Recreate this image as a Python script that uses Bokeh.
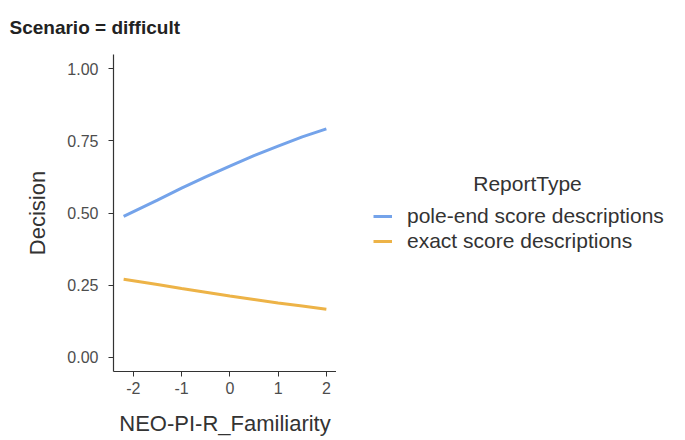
from bokeh.plotting import figure
from bokeh.models import Legend, LegendItem, Label, Range1d, FixedTicker
from bokeh.layouts import row
from bokeh.embed import file_html
from bokeh.resources import INLINE

familiarity = [-2.2, -1.5, -1.0, -0.5, 0.0, 0.5, 1.0, 1.5, 2.0]
pole_end = [0.488, 0.545, 0.586, 0.625, 0.663, 0.699, 0.732, 0.764, 0.792]
exact = [0.270, 0.252, 0.238, 0.225, 0.212, 0.200, 0.188, 0.177, 0.166]
series_names = ["pole-end score descriptions", "exact score descriptions"]
legend_title = "ReportType"
colors = ["#74A3EA", "#EDB347"]
y_ticks = [0.0, 0.25, 0.5, 0.75, 1.0]
x_ticks = [-2, -1, 0, 1, 2]

FONT = "Liberation Sans"
H = 440

p = figure(output_backend="svg", toolbar_location=None,
           frame_width=223, frame_height=317,
           x_range=Range1d(-2.41, 2.21), y_range=Range1d(-0.05, 1.05),
           min_border_left=113, min_border_top=54, min_border_bottom=0,
           min_border_right=0)
p.outline_line_color = None
p.xgrid.visible = False
p.ygrid.visible = False

p.line(familiarity, pole_end, line_color=colors[0], line_width=3)
p.line(familiarity, exact, line_color=colors[1], line_width=3)

for ax in (p.xaxis[0], p.yaxis[0]):
    ax.axis_line_color = "#333333"
    ax.axis_line_width = 1.2
    ax.major_tick_line_color = "#333333"
    ax.major_tick_in = 0
    ax.major_tick_out = 5
    ax.minor_tick_line_color = None
    ax.major_label_text_font = FONT
    ax.major_label_text_font_size = "16px"
    ax.major_label_text_color = "#4D4D4D"
    ax.axis_label_text_font = FONT
    ax.axis_label_text_font_size = "22px"
    ax.axis_label_text_font_style = "normal"
    ax.axis_label_text_color = "#333333"

p.xaxis.major_label_standoff = 5
p.yaxis.major_label_standoff = 10
p.xaxis.ticker = FixedTicker(ticks=x_ticks)
p.yaxis.ticker = FixedTicker(ticks=y_ticks)
p.xaxis.major_label_overrides = {v: str(v) for v in x_ticks}
p.yaxis.major_label_overrides = {v: f"{v:.2f}" for v in y_ticks}
p.xaxis.axis_label = "NEO-PI-R_Familiarity"
p.yaxis.axis_label = "Decision"
p.xaxis.axis_label_standoff = 14
p.yaxis.axis_label_standoff = 14

p.title.text = "Scenario = difficult"
p.title.text_font = FONT
p.title.text_font_size = "19px"
p.title.text_font_style = "bold"
p.title.text_color = "#222222"
p.title.offset = -104
p.title.standoff = 30
p.title.vertical_align = "top"

# legend panel as a second figure
q = figure(output_backend="svg", toolbar_location=None, width=345, height=H,
           x_axis_location=None, y_axis_location=None,
           x_range=Range1d(100, 101), y_range=Range1d(100, 101),
           min_border=0)
q.outline_line_color = None
q.xgrid.visible = False
q.ygrid.visible = False
lr1 = q.line(familiarity, pole_end, line_color=colors[0], line_width=3)
lr2 = q.line(familiarity, exact, line_color=colors[1], line_width=3)

legend = Legend(items=[LegendItem(label=series_names[0], renderers=[lr1]),
                       LegendItem(label=series_names[1], renderers=[lr2])],
                location=(37, 120), orientation="vertical",
                label_text_font=FONT, label_text_font_size="21px",
                label_text_color="#333333",
                glyph_width=19, glyph_height=22, label_standoff=15,
                spacing=1, padding=0, margin=0,
                border_line_color=None, background_fill_alpha=0)
q.add_layout(legend)

q.add_layout(Label(x=191, y=190, x_units="screen", y_units="screen",
                   text=legend_title, text_font=FONT, text_font_size="21px",
                   text_color="#333333", text_align="center", text_baseline="middle"))

layout = row(p, q)
open("out.html", "w").write(file_html(layout, INLINE))
